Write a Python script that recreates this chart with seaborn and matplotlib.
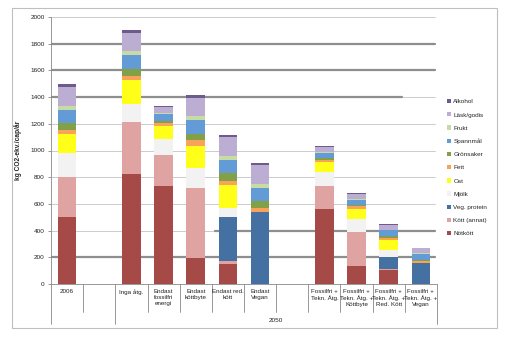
import numpy as np
import pandas as pd
import matplotlib
matplotlib.use("Agg")
import matplotlib.pyplot as plt
import seaborn as sns
from matplotlib.patches import Rectangle, Patch

sns.set_theme(style="white")
plt.rcParams['font.family'] = ['Liberation Sans', 'DejaVu Sans']

categories = ["2006", "", "Inga åtg.", "Endast\nfossilfri\nenergi", "Endast\nköttbyte",
              "Endast red.\nkött", "Endast\nVegan", "", "Fossilfri +\nTekn. Åtg.",
              "Fossilfri +\nTekn. Åtg. +\nKöttbyte", "Fossilfri +\nTekn. Åtg. +\nRed. Kött",
              "Fossilfri +\nTekn. Åtg. +\nVegan"]
group_2050 = "2050"

series_names = ["Nötkött", "Kött (annat)", "Veg. protein", "Mjölk", "Ost", "Fett",
                "Grönsaker", "Spannmål", "Frukt", "Läsk/godis", "Alkohol"]

notkott      = [505, 0, 827, 732, 197, 152, 0,   0, 560, 132, 102, 0]
kott_annat   = [300, 0, 383, 235, 525, 20,  0,   0, 175, 258, 8,   0]
veg_protein  = [0,   0, 0,   0,   0,   328, 542, 0, 0,   0,   95,  160]
mjolk        = [180, 0, 142, 118, 150, 72,  0,   0, 105, 95,  52,  0]
ost          = [135, 0, 175, 102, 165, 173, 0,   0, 77,  80,  75,  0]
fett         = [37,  0, 33,  20,  38,  27,  25,  0, 15,  22,  15,  12]
gronsaker    = [48,  0, 50,  15,  52,  60,  53,  0, 13,  8,   15,  10]
spannmal     = [102, 0, 107, 55,  103, 98,  102, 0, 37,  37,  40,  43]
frukt        = [28,  0, 25,  5,   27,  32,  30,  0, 5,   5,   5,   5]
lask_godis   = [140, 0, 135, 45,  138, 138, 138, 0, 40,  38,  38,  37]
alkohol      = [20,  0, 25,  10,  20,  17,  17,  0, 8,   10,  5,   3]

series_values = [notkott, kott_annat, veg_protein, mjolk, ost, fett, gronsaker,
                 spannmal, frukt, lask_godis, alkohol]
colors = ["#A64A47", "#DFA4A2", "#4470A2", "#F2F2F2", "#FFFF1A", "#F9A35A",
          "#82A045", "#629BD6", "#C8DBA5", "#BCAED2", "#6E5A8C"]

yticks = [0, 200, 400, 600, 800, 1000, 1200, 1400, 1600, 1800, 2000]

W, H = 516, 343
fig = plt.figure(figsize=(W / 100, H / 100), dpi=100)
fig.patch.set_facecolor("white")
L, R, B, T = 51, 437, 284, 17
ax = fig.add_axes([L / W, 1 - B / H, (R - L) / W, (B - T) / H])

# outer frame
fig.add_artist(Rectangle((12 / W, 1 - 328 / H), (497 - 12) / W, (328 - 8) / H,
                         transform=fig.transFigure, fill=False, edgecolor="#BFBFBF", lw=0.8))

keys = [f"c{i}" for i in range(len(categories))]
df = pd.DataFrame({"key": keys})
for name, vals in zip(series_names, series_values):
    df[name] = vals

bottom = np.zeros(len(keys))
for name, col in zip(series_names, colors):
    sns.barplot(data=df, x="key", y=name, order=keys, bottom=bottom, color=col,
                width=0.58, ax=ax, saturation=1, edgecolor="none", linewidth=0, zorder=3)
    bottom = bottom + df[name].to_numpy()

ax.set_xlim(-0.5, len(keys) - 0.5)
ax.set_ylim(0, 2000)
ax.set_yticks(yticks)
ax.set_yticklabels([str(v) for v in yticks], fontsize=4.6, color="#222222")
ax.tick_params(axis="y", length=2.5, width=0.6, color="#888888", pad=2, left=True)
ax.set_xticks([])
ax.set_xlabel("")
ax.set_ylabel("kg CO2-ekv./cap/år", fontsize=4.8, fontweight="bold", labelpad=6)
for s in ["top", "right"]:
    ax.spines[s].set_visible(False)
for s in ["left", "bottom"]:
    ax.spines[s].set_color("#888888")
    ax.spines[s].set_linewidth(0.6)

# gridlines
thin = dict(color="#C4C4C4", lw=0.6, zorder=1)
thick = dict(color="#8E8E8E", lw=1.6, zorder=1.5)
for v in [600, 800, 1000, 1200, 2000]:
    ax.axhline(v, xmax=0.995, **thin)
for v in [200, 1600, 1800]:
    ax.axhline(v, xmax=0.995, **thick)
ax.axhline(1400, xmax=0.909, **thick)
ax.axhline(1400, xmin=0.909, xmax=0.995, **thin)
ax.axhline(400, xmax=0.425, **thin)
ax.axhline(400, xmin=0.425, xmax=0.995, **thick)

# multi-level category axis
tr = ax.get_xaxis_transform()
short_y = (B - 312) / (B - T)
long_y = (B - 324) / (B - T)
for i in range(len(keys) + 1):
    x = i - 0.5
    yb = long_y if i in (0, 2, len(keys)) else short_y
    ax.plot([x, x], [0, yb], transform=tr, color="#888888", lw=0.6, clip_on=False)
lab_y = (B - 289) / (B - T)
for i, lab in enumerate(categories):
    if lab:
        ax.text(i, lab_y, lab, transform=tr, ha="center", va="top", fontsize=4.5,
                linespacing=1.25, color="#222222")
grp_y = (B - 321) / (B - T)
ax.text(6.5, grp_y, group_2050, transform=tr, ha="center", va="center", fontsize=4.6, color="#222222")

# legend
handles = [Patch(facecolor=c, edgecolor="none", label=n) for n, c in zip(series_names, colors)][::-1]
leg = fig.legend(handles=handles, loc="upper left", bbox_to_anchor=(447 / W, 1 - 99 / H),
                 frameon=False, fontsize=4.6, handlelength=0.65, handleheight=0.65,
                 handletextpad=0.35, labelspacing=1.22, borderpad=0, borderaxespad=0)

fig.savefig("out.png", dpi=100)
